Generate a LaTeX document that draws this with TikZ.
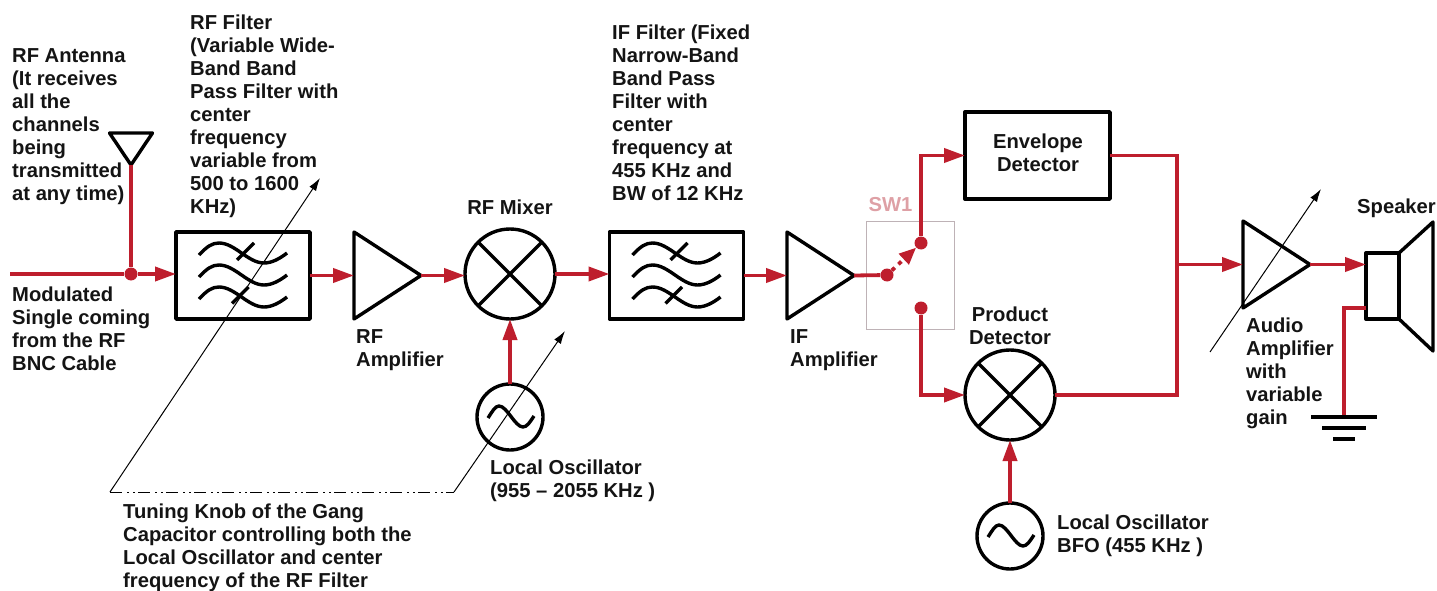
\documentclass[tikz,border=0pt]{standalone}
\usepackage{fontspec}
\setmainfont{Liberation Sans}
\usetikzlibrary{arrows.meta, shapes.geometric}
\definecolor{sigRed}{RGB}{190,30,45}
\definecolor{swGray}{RGB}{190,178,182}
\definecolor{swPink}{RGB}{222,160,165}
\definecolor{txtBlack}{RGB}{20,20,20}
\begin{document}
\begin{tikzpicture}[
  x=1pt, y=-1pt,
  sym/.style={draw=black, line width=3.4pt, line join=round, outer sep=0pt},
  thinline/.style={draw=black, line width=1pt},
  knob/.style={thinline, -{Latex[length=13pt,width=8pt]}},
  wire/.style={draw=sigRed, line width=3.8pt},
  arrow/.style={wire, -{Triangle[length=21pt,width=14pt]}},
  dot/.style={circle, fill=sigRed, minimum size=13pt, inner sep=0pt},
  filterbox/.style={sym, rectangle, minimum width=134pt, minimum height=87pt, inner sep=0pt},
  amp/.style={sym, isosceles triangle, isosceles triangle stretches, minimum width=87pt, minimum height=67pt, inner sep=0pt, anchor=west},
  mixer/.style={sym, circle, minimum size=90pt, inner sep=0pt},
  osc/.style={sym, circle, minimum size=66pt, inner sep=0pt},
  lbl/.style={anchor=north west, align=left, inner sep=0pt, text=txtBlack, font=\fontsize{20.2}{23}\selectfont\bfseries}
]
  \useasboundingbox (0,0) rectangle (1437,591);
  % blocks
  \node[filterbox] (rffilter) at (243,275.5) {};
  \node[amp] (rfamp) at (354,275.5) {};
  \node[mixer] (rfmixer) at (510,274) {};
  \node[osc] (rfosc) at (510,417) {};
  \node[filterbox] (iffilter) at (676.5,275.5) {};
  \node[amp] (ifamp) at (787,275.5) {};
  \node[sym, rectangle, minimum width=145pt, minimum height=87pt] (envdet) at (1037.5,155.5) {};
  \node[mixer] (prodet) at (1010,395) {};
  \node[osc] (bfo) at (1010,536) {};
  \node[amp] (audioamp) at (1243,264.5) {};
  \node[sym, rectangle, minimum width=33pt, minimum height=66pt, inner sep=0pt] (spkbox) at (1382.5,286) {};
  \draw[sym] (spkbox.north east) -- (1433,222) -- (1433,351) -- (spkbox.south east);
  % filter symbols
  \foreach \fname/\cx in {rffilter/243, iffilter/676.5} {
    \foreach \dy in {253.5,275.5,297.5} {
      \draw[sym, shift={(\cx,\dy)}] (-44,1.5) .. controls (-36,-7) and (-31,-10.5) .. (-24,-10.5)
        .. controls (-8,-10.5) and (5,9.5) .. (21,9.5) .. controls (29,9.5) and (37,5) .. (44,-0.5);
    }
    \draw[sym, shift={(\fname.center)}] (-6,-15.5) -- (11,-32.5);
    \draw[sym, shift={(\fname.center)}] (-11,28) -- (5.5,11.5);
  }
  % mixer crosses
  \foreach \mname in {rfmixer, prodet} {
    \draw[sym] (\mname.north west) -- (\mname.south east);
    \draw[sym] (\mname.north east) -- (\mname.south west);
  }
  % oscillator waves
  \foreach \oname in {rfosc, bfo} {
    \draw[sym, shift={(\oname.center)}] (-22,1) .. controls (-18,-5) and (-15,-11) .. (-11,-11)
      .. controls (-3,-11) and (5,10) .. (13,10) .. controls (17,10) and (20,5) .. (24,-1);
  }
  % antenna and input
  \node[sym, isosceles triangle, isosceles triangle stretches, shape border rotate=270, minimum width=43pt, minimum height=32pt, inner sep=0pt, anchor=apex] (antenna) at (131,165) {};
  \coordinate (rfin) at (10,274);
  \node[dot] (rfjoin) at (131,274) {};
  \draw[wire] (antenna.apex) -- (rfjoin);
  \draw[wire] (rfin) -- (rfjoin);
  \draw[arrow] (rfjoin) -- (rffilter.west |- rfjoin);
  \draw[arrow] (rffilter.east) -- (rfamp.west);
  \draw[arrow] (rfamp.east) -- (rfamp.east -| rfmixer.west);
  \draw[arrow] (rfmixer.east) -- (rfmixer.east -| iffilter.west);
  \draw[arrow] (rfosc.north) -- (rfmixer.south);
  \draw[arrow] (iffilter.east) -- (ifamp.west);
  % switch
  \draw[draw=swGray, line width=1pt] (866,221) rectangle (954,329);
  \node[dot] (swin) at (887,275) {};
  \node[dot] (swup) at (921,243) {};
  \node[dot] (swlo) at (921,308) {};
  \node[anchor=center, inner sep=0pt, text=swPink, font=\fontsize{20.2}{23}\selectfont\bfseries] (swname) at (890.5,205) {SW1};
  \draw[wire] (ifamp.east) -- (swin);
  \draw[wire, dash pattern=on 4pt off 5pt, -{Triangle[length=17pt,width=14pt]}] (swin) -- (swup);
  \draw[arrow] (swup) |- (envdet.west);
  \draw[arrow] (swlo) |- (prodet.west);
  \draw[arrow] (bfo.north) -- (prodet.south);
  % audio stage
  \coordinate (sumjoin) at (1177,264.5);
  \draw[wire] (envdet.east) -| (sumjoin) |- (prodet.east);
  \draw[arrow] (sumjoin) -- (audioamp.west);
  \draw[arrow] (audioamp.east) -- (audioamp.east -| spkbox.west);
  \coordinate (spkgnd) at (1366,308);
  \node[inner sep=0pt, minimum width=66pt, minimum height=3.4pt, fill=black] (gnd1) at (1344,417) {};
  \node[inner sep=0pt, minimum width=44pt, minimum height=3.4pt, fill=black] (gnd2) at (1344,428) {};
  \node[inner sep=0pt, minimum width=22pt, minimum height=3.4pt, fill=black] (gnd3) at (1344,439) {};
  \draw[wire] (spkgnd) -| (gnd1.north);
  % tuning knob
  \coordinate (knobl) at (110,492);
  \coordinate (knobr) at (454,492);
  \coordinate (knobltip) at (320,178);
  \coordinate (knobrtip) at (565,331);
  \coordinate (gainfoot) at (1210,352);
  \coordinate (gaintip) at (1321,189);
  \draw[knob] (knobl) -- (knobltip);
  \draw[knob] (knobr) -- (knobrtip);
  \draw[knob] (gainfoot) -- (gaintip);
  \draw[thinline, dash pattern=on 12pt off 5pt on 2pt off 4pt on 2pt off 3pt] (knobl) -- (knobr);
  % labels
  \node[lbl, align=center, anchor=center] (envlbl) at (1038,152.5) {Envelope\\Detector};
  \node[lbl] (antlbl) at (12,48) {RF Antenna\\(It receives\\all the\\channels\\being\\transmitted\\at any time)};
  \node[lbl] (rffiltlbl) at (190,15) {RF Filter\\(Variable Wide-\\Band Band\\Pass Filter with\\center\\frequency\\variable from\\500 to 1600\\KHz)};
  \node[lbl] (modlbl) at (12,287) {Modulated\\Single coming\\from the RF\\BNC Cable};
  \node[lbl] (rfamplbl) at (356,329) {RF\\Amplifier};
  \node[lbl, anchor=center] (rfmixlbl) at (510,207) {RF Mixer};
  \node[lbl] (osclbl) at (490,460) {Local Oscillator\\(955 -- 2055 KHz )};
  \node[lbl] (knoblbl) at (123,504) {Tuning Knob of the Gang\\Capacitor controlling both the\\Local Oscillator and center\\frequency of the RF Filter};
  \node[lbl] (iffiltlbl) at (612,25) {IF Filter (Fixed\\Narrow-Band\\Band Pass\\Filter with\\center\\frequency at\\455 KHz and\\BW of 12 KHz};
  \node[lbl] (ifamplbl) at (790,329) {IF\\Amplifier};
  \node[lbl, align=center, anchor=north] (prodlbl) at (1010,307) {Product\\Detector};
  \node[lbl] (audiolbl) at (1246,318) {Audio\\Amplifier\\with\\variable\\gain};
  \node[lbl] (spklbl) at (1357,199) {Speaker};
  \node[lbl] (bfolbl) at (1057,515) {Local Oscillator\\BFO (455 KHz )};
\end{tikzpicture}
\end{document}
